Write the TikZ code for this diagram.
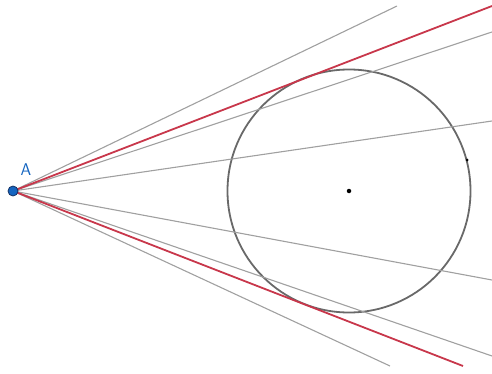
\documentclass[tikz,border=0pt]{standalone}
\definecolor{ggblue}{RGB}{21,101,192}
\definecolor{ggdark}{RGB}{20,50,100}
\definecolor{ggred}{RGB}{200,55,75}
\definecolor{gggray}{RGB}{160,160,160}
\definecolor{ggcirc}{RGB}{105,105,105}
\tikzset{
  ray/.style={draw=gggray, line width=1.1pt},
  tangent/.style={draw=ggred, line width=1.8pt},
  circ/.style={circle, draw=ggcirc, line width=1.8pt, minimum size=243pt, inner sep=0pt},
  dot/.style={circle, fill=black, inner sep=0pt, minimum size=#1},
  ptA/.style={circle, fill=ggblue, draw=ggdark, line width=0.8pt, inner sep=0pt, minimum size=10pt},
  lbl/.style={text=ggblue, font=\sffamily\fontsize{17}{17}\selectfont, inner sep=0pt}
}
\begin{document}
\begin{tikzpicture}[x=1pt,y=-1pt]
\useasboundingbox (0,0) rectangle (492,374);
\coordinate (A) at (13,191);
\coordinate (e1) at (397,6);
\coordinate (e2) at (492,6);
\coordinate (e3) at (492,32);
\coordinate (e4) at (492,121);
\coordinate (e5) at (492,280);
\coordinate (e6) at (492,356);
\coordinate (e7) at (463,366);
\coordinate (e8) at (390,366);
\node[circ] (C) at (349,191) {};
\draw[ray] (A) -- (e1);
\draw[ray] (A) -- (e3);
\draw[ray] (A) -- (e4);
\draw[ray] (A) -- (e5);
\draw[ray] (A) -- (e6);
\draw[ray] (A) -- (e8);
\draw[tangent] (A) -- (e2);
\draw[tangent] (A) -- (e7);
\node[dot=4.5pt] (O) at (349,191) {};
\node[dot=3pt] (P) at (467,160) {};
\node[ptA] (Adot) at (A) {};
\node[lbl] (Alab) at (26,170) {A};
\end{tikzpicture}
\end{document}
